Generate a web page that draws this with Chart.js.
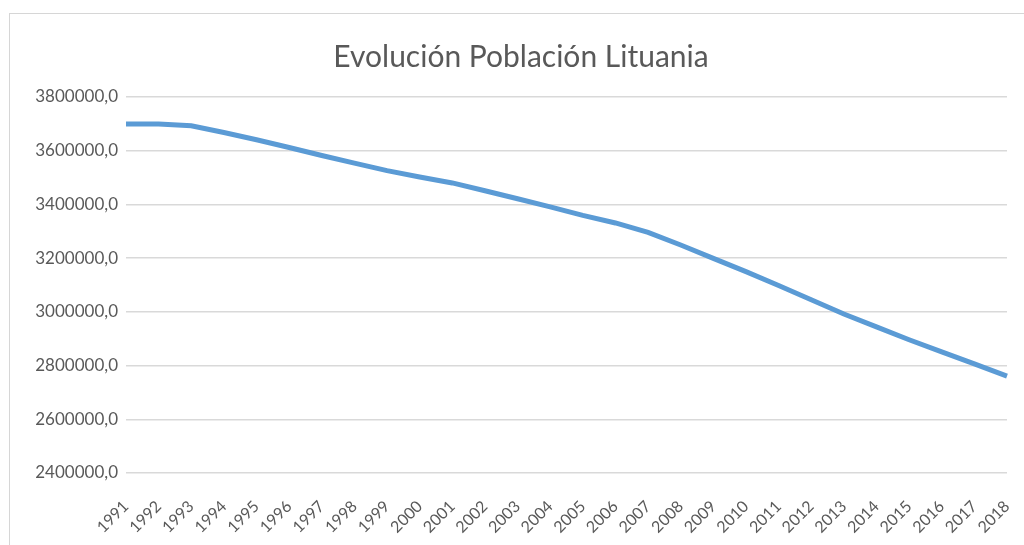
<!DOCTYPE html>
<html>
<head>
<meta charset="utf-8">
<script src="https://cdn.jsdelivr.net/npm/chart.js@4"></script>
<style>
    body { margin: 0; background: #fff; }
    #wrap { position: relative; width: 1024px; height: 545px; overflow: hidden; }
    #frame { position: absolute; left: 9px; top: 13px; width: 1100px; height: 600px; border: 1px solid #d6d6d6; }
    #chart { position: absolute; left: 0; top: 0; }
</style>
</head>
<body>
<div id="wrap">
    <div id="frame"></div>
    <canvas id="chart" width="1024" height="545"></canvas>
</div>
<script>
// --- Chart data ---
const years = ['1991', '1992', '1993', '1994', '1995', '1996', '1997', '1998', '1999', '2000',
    '2001', '2002', '2003', '2004', '2005', '2006', '2007', '2008', '2009', '2010',
    '2011', '2012', '2013', '2014', '2015', '2016', '2017', '2018'];
const population = [3699500, 3699500, 3693000, 3668000, 3641000, 3612000, 3582000, 3554000, 3526000, 3502000,
    3480000, 3451000, 3421000, 3391000, 3359000, 3331000, 3296000, 3249000, 3199000, 3150000,
    3098000, 3045000, 2992000, 2944000, 2896000, 2851000, 2806000, 2761000];
const yTicks = [2400000, 2600000, 2800000, 3000000, 3200000, 3400000, 3600000, 3800000];

const textColor = '#595959';
const gridColor = '#d9d9d9';

const ctx = document.getElementById('chart').getContext('2d');
const populationChart = new Chart(ctx, {
    type: 'line',
    data: {
        labels: years,
        datasets: [{
            label: 'Población',
            data: population,
            borderColor: '#5b9bd5',
            borderWidth: 5,
            pointRadius: 0,
            tension: 0,
            fill: false
        }]
    },
    options: {
        responsive: false,
        animation: false,
        layout: {
            padding: { left: 35, right: 17, top: 0, bottom: 0 }
        },
        plugins: {
            legend: { display: false },
            tooltip: { enabled: false },
            title: {
                display: true,
                text: 'Evolución Población Lituania',
                color: textColor,
                font: { family: 'Lato', size: 30, weight: 'normal', lineHeight: 1.2 },
                padding: { top: 39, bottom: 22 }
            }
        },
        scales: {
            x: {
                offset: false,
                grid: { display: false, drawTicks: false },
                border: { display: false },
                ticks: {
                    color: textColor,
                    font: { family: 'Lato', size: 16 },
                    minRotation: 45,
                    maxRotation: 45,
                    autoSkip: false,
                    padding: 24
                },
                // keep the plot right edge where the reference has it
                afterFit: scale => {
                    scale.height = 72;
                    scale.paddingLeft = 0;
                    scale.paddingRight = 0;
                }
            },
            y: {
                min: 2400000,
                max: 3800000,
                grid: { color: gridColor, lineWidth: 1.5, drawTicks: false },
                border: { display: false },
                ticks: {
                    color: textColor,
                    font: { family: 'Lato', size: 17 },
                    padding: 8,
                    callback: v => v.toFixed(1).replace('.', ',')
                },
                afterBuildTicks: scale => {
                    scale.ticks = yTicks.map(v => ({ value: v }));
                },
                afterFit: scale => { scale.width = 91; }
            }
        }
    }
});
</script>
</body>
</html>
